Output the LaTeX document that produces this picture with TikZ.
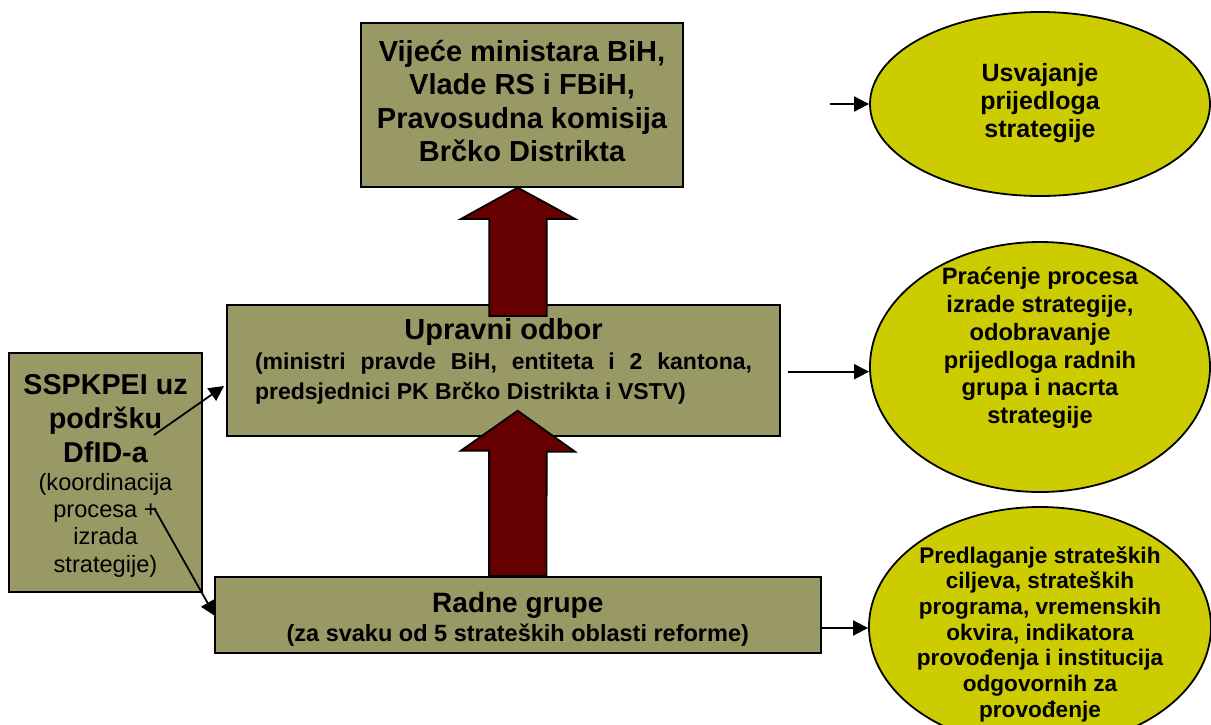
\documentclass[tikz,border=0pt]{standalone}
\usepackage{fontspec}
\setmainfont{Liberation Sans}
\usetikzlibrary{arrows.meta,shapes.geometric,calc}
\definecolor{boxol}{RGB}{153,153,102}
\definecolor{ellyel}{RGB}{204,204,0}
\definecolor{arrred}{RGB}{102,0,0}
\newcommand{\fsz}[2]{\fontsize{#1}{#2}\selectfont\spaceskip=.278em\xspaceskip=.278em\relax}
\newcommand{\justline}[1]{{\spaceskip=0pt\xspaceskip=0pt\makebox[\linewidth][s]{#1}}}
\begin{document}
\begin{tikzpicture}[x=1pt,y=-1pt,
  boxstyle/.style={draw=black, line width=1.8pt, fill=boxol, inner sep=0pt},
  ellstyle/.style={ellipse, draw=black, line width=1.8pt, fill=ellyel, inner sep=0pt},
  thinarrow/.style={-{Triangle[length=15pt,width=15pt]}, line width=1.8pt},
  bigarrow/.style={fill=arrred, draw=black, line width=1.8pt, line join=miter},
  txt/.style={inner sep=0pt, align=center}]
\useasboundingbox (0,0) rectangle (1211,724);

% left box
\node[boxstyle, minimum width=193pt, minimum height=239pt] (lb) at (105.5,472.3) {};
\node[txt, text width=190pt, font=\fsz{28.7}{34}] (lbt) at (105.5,476) {\fsz{28.7}{34}\bfseries SSPKPEI uz\\ podršku\\ DfID-a\par
\fsz{23.6}{27.3}\mdseries (koordinacija\\ procesa +\\ izrada\\ strategije)\par};

\coordinate (l2s) at (154,508);
\coordinate (l2e) at (215,616);
\draw[thinarrow] (l2s) -- (l2e);

% bottom box
\node[boxstyle, minimum width=606pt, minimum height=76pt] (bb) at (517.8,615) {};

% middle box
\node[boxstyle, minimum width=553pt, minimum height=131pt] (mb) at (503.5,370.5) {};

% top box
\node[boxstyle, minimum width=322pt, minimum height=164pt] (tb) at (522,104.7) {};

% big arrows
\coordinate (ut) at ($(tb.south)+(-4.3,0)$);
\filldraw[bigarrow] (ut) -- ++(57.3,31.3) -- ++(-28.3,0) -- ++(0,97) -- ++(-57.4,0) -- ++(0,-97) -- ++(-28.3,0) -- cycle;
\coordinate (lt) at (517.7,410.7);
\filldraw[bigarrow] (lt) -- ++(57.3,41) -- ++(-28.3,0) -- ($(bb.north -| lt)+(28.7,0)$) -- ($(bb.north -| lt)+(-28.7,0)$) -- ++(0,-125.3) -- ++(-28.3,0) -- cycle;

% box texts
\node[txt, font=\fsz{28}{30}\bfseries] (bbt1) at (517.8,605) {Radne grupe};
\node[txt, font=\fsz{23.5}{26}\bfseries] (bbt2) at (517.8,635) {(za svaku od 5 strateških oblasti reforme)};
\node[txt, text width=497pt, font=\fsz{23}{30}\bfseries] (mbt) at (503.5,361.5) {\fsz{29}{30}\bfseries Upravni odbor\par
\fsz{23}{30}\bfseries
\justline{(ministri pravde BiH, entiteta i 2 kantona,}\\
\makebox[\linewidth][l]{predsjednici PK Brčko Distrikta i VSTV)}\par};
\node[txt, font=\fsz{29}{33.3}\bfseries] (tbt) at (522,101) {Vijeće ministara BiH,\\Vlade RS i FBiH,\\Pravosudna komisija\\Brčko Distrikta};

% arrow from left box to middle box
\coordinate (l1s) at (154,435);
\coordinate (l1e) at (224,386);
\draw[thinarrow] (l1s) -- (l1e);

% ellipses
\node[ellstyle, minimum width=340pt, minimum height=184pt] (e1) at (1040,104) {};
\node[txt, font=\fsz{25}{28}\bfseries] (e1t) at (1040,103) {Usvajanje\\prijedloga\\strategije};
\node[ellstyle, minimum width=340pt, minimum height=250pt] (e2) at (1040,367) {};
\node[txt, font=\fsz{23.7}{27.7}\bfseries] (e2t) at (1040,348) {Praćenje procesa\\izrade strategije,\\odobravanje\\prijedloga radnih\\grupa i nacrta\\strategije};
\node[ellstyle, minimum width=342pt, minimum height=240pt] (e3) at (1040,627) {};
\node[txt, font=\fsz{22.6}{25.7}\bfseries] (e3t) at (1040,634) {Predlaganje strateških\\ciljeva, strateških\\programa, vremenskih\\okvira, indikatora\\provođenja i institucija\\odgovornih za\\provođenje};

% thin arrows to ellipses
\coordinate (s1) at (830,104);
\draw[thinarrow] (s1) -- (e1.west);
\coordinate (s2) at (788,371.7);
\draw[thinarrow] (s2) -- (s2 -| e2.west);
\coordinate (s3) at ($(bb.east)+(0,13)$);
\draw[thinarrow] (s3) -- (s3 -| e3.west);
\end{tikzpicture}
\end{document}
